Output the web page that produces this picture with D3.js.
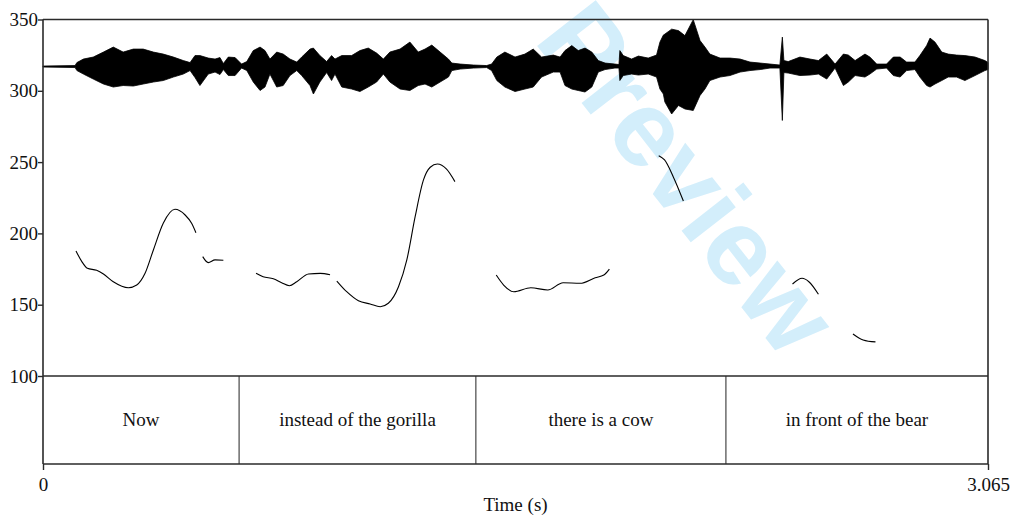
<!DOCTYPE html>
<html>
<head>
<meta charset="utf-8">
<script src="https://cdn.jsdelivr.net/npm/d3@7"></script>
<style>
  html, body { margin: 0; padding: 0; background: #fff; }
  svg { display: block; }
  text { font-family: "Liberation Serif", "Times New Roman", serif; }
</style>
</head>
<body>
<svg id="chart" width="1011" height="517"></svg>
<script>
// Time axis (s)
const duration = 3.065;
const timeTicks = [0, 3.065];
const timeTickLabels = ["0", "3.065"];

// Pitch axis (Hz)
const pitchTicks = [100, 150, 200, 250, 300, 350];

// Waveform envelope: time (s), upper and lower amplitude (relative)
const waveTime = [0,0.104,0.110,0.131,0.163,0.196,0.228,0.260,0.293,0.325,0.358,0.390,0.423,0.455,0.477,0.493,0.509,0.536,0.558,0.574,0.585,0.601,0.623,0.644,0.661,0.682,0.704,0.720,0.736,0.758,0.779,0.801,0.823,0.839,0.866,0.877,0.898,0.920,0.936,0.947,0.969,1.001,1.028,1.055,1.082,1.104,1.125,1.158,1.190,1.217,1.239,1.261,1.288,1.315,1.326,1.353,1.396,1.439,1.455,1.472,1.498,1.531,1.563,1.590,1.617,1.655,1.677,1.693,1.715,1.736,1.758,1.780,1.801,1.823,1.855,1.868,1.871,1.882,1.909,1.931,1.963,1.990,2.001,2.012,2.017,2.039,2.061,2.082,2.109,2.131,2.147,2.163,2.196,2.228,2.261,2.293,2.326,2.358,2.390,2.398,2.403,2.417,2.455,2.488,2.515,2.542,2.569,2.596,2.612,2.634,2.666,2.682,2.704,2.736,2.758,2.780,2.801,2.828,2.844,2.866,2.877,2.893,2.915,2.936,2.963,2.990,3.023,3.055,3.065];
const waveUpper = [0.01,0.02,0.08,0.15,0.19,0.29,0.39,0.29,0.35,0.35,0.29,0.25,0.19,0.12,0.08,0.22,0.22,0.17,0.15,0.18,0.06,0.19,0.18,0.05,0.10,0.32,0.39,0.32,0.15,0.29,0.25,0.15,0.09,0.19,0.35,0.37,0.22,0.10,0.22,0.15,0.22,0.22,0.32,0.37,0.27,0.15,0.29,0.35,0.49,0.29,0.35,0.43,0.29,0.15,0.07,0.05,0.03,0.02,0.05,0.19,0.29,0.19,0.25,0.35,0.19,0.23,0.19,0.32,0.42,0.32,0.37,0.29,0.12,0.07,0.05,0.04,0.32,0.22,0.15,0.21,0.17,0.23,0.49,0.63,0.65,0.75,0.72,0.62,0.94,0.52,0.39,0.25,0.17,0.17,0.15,0.09,0.07,0.05,0.03,0.59,0.12,0.10,0.19,0.15,0.12,0.25,0.05,0.25,0.23,0.12,0.25,0.19,0.05,0.05,0.19,0.19,0.09,0.09,0.22,0.42,0.57,0.49,0.29,0.25,0.23,0.22,0.19,0.12,0.08];
const waveLower = [-0.01,-0.02,-0.08,-0.15,-0.25,-0.35,-0.41,-0.38,-0.39,-0.35,-0.31,-0.28,-0.21,-0.15,-0.08,-0.22,-0.38,-0.15,-0.11,-0.16,-0.06,-0.18,-0.18,-0.03,-0.08,-0.31,-0.48,-0.41,-0.15,-0.41,-0.38,-0.18,-0.08,-0.18,-0.38,-0.55,-0.31,-0.12,-0.28,-0.15,-0.41,-0.45,-0.50,-0.41,-0.31,-0.15,-0.31,-0.45,-0.48,-0.38,-0.35,-0.41,-0.31,-0.21,-0.08,-0.05,-0.03,-0.02,-0.08,-0.28,-0.41,-0.50,-0.45,-0.41,-0.21,-0.11,-0.11,-0.38,-0.45,-0.48,-0.51,-0.41,-0.11,-0.06,-0.03,-0.03,-0.28,-0.18,-0.15,-0.17,-0.15,-0.21,-0.45,-0.55,-0.71,-0.95,-0.78,-0.85,-0.88,-0.58,-0.45,-0.28,-0.21,-0.18,-0.11,-0.08,-0.06,-0.03,-0.03,-1.08,-0.12,-0.13,-0.18,-0.17,-0.15,-0.25,-0.03,-0.38,-0.31,-0.18,-0.21,-0.15,-0.05,-0.03,-0.18,-0.21,-0.08,-0.06,-0.21,-0.38,-0.41,-0.35,-0.28,-0.21,-0.21,-0.28,-0.18,-0.08,-0.06];

// Pitch contour, one pair of arrays per voiced stretch
const pitchTime = [
  [0.107,0.126,0.144,0.174,0.196,0.228,0.277,0.304,0.331,0.358,0.390,0.428,0.461,0.482,0.496],
  [0.518,0.536,0.558,0.585],
  [0.691,0.714,0.747,0.774,0.799,0.823,0.861,0.899,0.931],
  [0.953,0.985,1.023,1.061,1.094,1.120,1.153,1.180,1.207,1.234,1.256,1.279,1.309,1.336],
  [1.470,1.494,1.527,1.582,1.637,1.687,1.742,1.791,1.819,1.837],
  [1.997,2.016,2.044,2.077],
  [2.431,2.462,2.484,2.515],
  [2.627,2.660,2.700]
];
const pitchHz = [
  [187.7,180.2,175.5,174.1,171.5,166.1,161.9,163.8,172.0,188.4,207.1,216.9,212.9,207.1,200.5],
  [183.7,179.5,181.4,181.2],
  [172.0,169.6,168.2,165.4,163.3,166.1,171.5,172.0,171.0],
  [166.6,159.1,152.8,150.5,148.6,151.0,162.6,181.4,211.7,237.5,246.4,248.7,245.0,236.3],
  [170.8,163.8,159.1,161.9,160.3,165.4,165.0,168.9,170.8,175.0],
  [254.5,251.5,239.8,222.7],
  [164.5,168.5,166.1,157.3],
  [129.5,125.3,123.9]
];

// Text tier: interval boundaries (s) and labels
const tierBounds = [0, 0.636, 1.404, 2.215, 3.065];
const tierLabels = ["Now", "instead of the gorilla", "there is a cow", "in front of the bear"];

const svg = d3.select("#chart");
const plotLeft = 43, plotRight = 988, plotTop = 19.5, plotBottom = 376, tierBottom = 464;

const x = d3.scaleLinear().domain([0, duration]).range([plotLeft, plotRight]);
const y = d3.scaleLinear().domain([100, 350]).range([plotBottom, plotTop]);
// waveform sits around 317 Hz on the shared vertical axis
const yWave = d3.scaleLinear().domain([-1, 1]).range([y(282), y(352)]);

// Watermark
svg.append("text")
  .attr("transform", "translate(688,178) rotate(52)")
  .attr("text-anchor", "middle")
  .attr("dominant-baseline", "central")
  .style("font-family", "'Liberation Sans', Arial, sans-serif")
  .style("font-weight", "bold")
  .style("font-size", "108px")
  .attr("fill", "#d3eefb")
  .text("Preview");

// Waveform
const waveData = waveTime.map((t, i) => ({ t, hi: waveUpper[i], lo: waveLower[i] }));
svg.append("path")
  .datum(waveData)
  .attr("d", d3.area().x(d => x(d.t)).y0(d => yWave(d.lo)).y1(d => yWave(d.hi)))
  .attr("fill", "#000")
  .attr("stroke", "#000")
  .attr("stroke-width", 0.8);

// Pitch contours
const line = d3.line().x(d => x(d[0])).y(d => y(d[1])).curve(d3.curveMonotoneX);
pitchTime.forEach((ts, k) => {
  svg.append("path")
    .datum(ts.map((t, i) => [t, pitchHz[k][i]]))
    .attr("d", line)
    .attr("fill", "none")
    .attr("stroke", "#000")
    .attr("stroke-width", 1.1);
});

// Tier boundaries and labels
tierBounds.slice(1, -1).forEach(b => {
  svg.append("line")
    .attr("x1", x(b)).attr("x2", x(b))
    .attr("y1", plotBottom).attr("y2", tierBottom)
    .attr("stroke", "#222").attr("stroke-width", 1);
});
tierLabels.forEach((lab, i) => {
  svg.append("text")
    .attr("x", (x(tierBounds[i]) + x(tierBounds[i + 1])) / 2)
    .attr("y", 426)
    .attr("text-anchor", "middle")
    .style("font-size", "19px")
    .attr("fill", "#111")
    .text(lab);
});

// Frame
const frame = svg.append("g").attr("fill", "none").attr("stroke", "#2a2a2a").attr("stroke-width", 1.6);
frame.append("line").attr("x1", plotLeft).attr("x2", plotRight).attr("y1", plotTop).attr("y2", plotTop);
frame.append("line").attr("x1", plotLeft).attr("x2", plotRight).attr("y1", plotBottom).attr("y2", plotBottom);
frame.append("line").attr("x1", plotLeft).attr("x2", plotRight).attr("y1", tierBottom).attr("y2", tierBottom);
frame.append("line").attr("x1", plotLeft).attr("x2", plotLeft).attr("y1", plotTop).attr("y2", tierBottom);
frame.append("line").attr("x1", plotRight).attr("x2", plotRight).attr("y1", plotTop).attr("y2", tierBottom);

// Left (pitch) axis
const yAxis = svg.append("g")
  .attr("transform", `translate(${plotLeft},0)`)
  .call(d3.axisLeft(y).tickValues(pitchTicks).tickSize(5).tickPadding(0).tickFormat(d3.format("d")));
yAxis.select(".domain").remove();
yAxis.selectAll("line").attr("stroke", "#2a2a2a").attr("stroke-width", 1.4);
yAxis.selectAll("text").style("font-size", "19px").attr("fill", "#111").attr("font-family", null);

// Bottom (time) axis
const xAxis = svg.append("g")
  .attr("transform", `translate(0,${tierBottom})`)
  .call(d3.axisBottom(x).tickValues(timeTicks).tickSize(6).tickPadding(8)
    .tickFormat((d, i) => timeTickLabels[i]));
xAxis.select(".domain").remove();
xAxis.selectAll("line").attr("stroke", "#2a2a2a").attr("stroke-width", 1.4);
xAxis.selectAll("text").style("font-size", "19px").attr("fill", "#111").attr("font-family", null);

// Axis title
svg.append("text")
  .attr("x", (plotLeft + plotRight) / 2)
  .attr("y", 511)
  .attr("text-anchor", "middle")
  .style("font-size", "19px")
  .attr("fill", "#111")
  .text("Time (s)");
</script>
</body>
</html>
